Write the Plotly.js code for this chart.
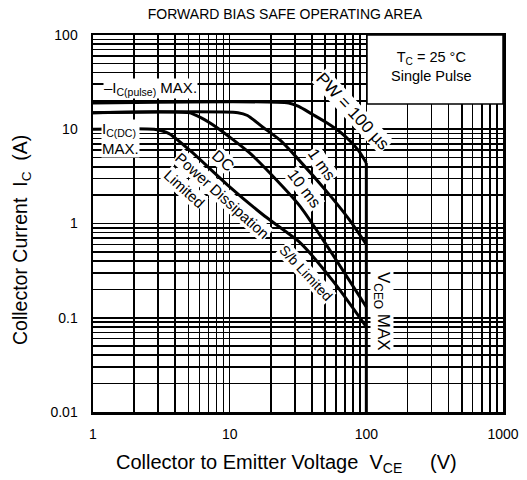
<!DOCTYPE html>
<html>
<head>
<meta charset="utf-8">
<script src="https://cdn.plot.ly/plotly-3.0.1.min.js"></script>
<style>html,body{margin:0;padding:0;background:#fff}#chart{width:527px;height:480px}</style>
</head>
<body>
<div id="chart"></div>
<script>
// ---- data (V in volts, I in amperes) ----
const v100us = [1, 27, 32, 40, 52, 64, 76, 88, 100];
const i100us = [19, 19, 17.5, 14.5, 11.6, 9.4, 7.5, 5.9, 4.4];

const v1ms = [1, 11.5, 13.5, 17.5, 23.3, 31, 54, 75, 100];
const i1ms = [15, 15, 14, 10.5, 7.7, 5.0, 2.0, 1.1, 0.6];

const v10ms = [1, 5, 6.2, 8, 14, 24.5, 33, 50, 100];
const i10ms = [15, 15, 13.2, 10.5, 5.6, 2.45, 1.5, 0.62, 0.13];

const vDC = [1, 2.8, 3.6, 5.1, 10, 18, 33, 59, 100];
const iDC = [10, 10, 9, 6.0, 2.45, 1.2, 0.62, 0.23, 0.08];

const vVceo = [100, 100];
const iVceo = [4.4, 0.01];

const xDecades = [1, 10, 100, 1000];
const xDecadeText = ['1', '10', '100', '1000'];
const yDecades = [0.01, 0.1, 1, 10, 100];
const yDecadeText = ['0.01', '0.1', '1', '10', '100'];
const gridSteps = [1, 2, 3, 4, 5, 6, 7, 8, 9];

// ---- log grid: every 1..9 step gets a grid line, only decades are labelled ----
function logTicks(decades, labels) {
  const vals = [], text = [];
  decades.forEach((d, k) => {
    const steps = k === decades.length - 1 ? [1] : gridSteps;
    steps.forEach(s => {
      vals.push(d * s);
      text.push(s === 1 ? labels[k] : '');
    });
  });
  return {vals, text};
}
const xt = logTicks(xDecades, xDecadeText);
const yt = logTicks(yDecades, yDecadeText);

// ---- drawing ----
const FONT = 'Liberation Sans, Arial, Helvetica, sans-serif';
const NB = '\u00a0';
const curve = (x, y, name) => ({x, y, name, type: 'scatter', mode: 'lines',
  line: {color: '#000', width: 3, shape: 'spline', smoothing: 0.6}, hoverinfo: 'skip'});

const traces = [
  curve(v100us, i100us, 'PW = 100 µs'),
  curve(v1ms, i1ms, '1 ms'),
  curve(v10ms, i10ms, '10 ms'),
  curve(vDC, iDC, 'DC'),
  curve(vVceo, iVceo, 'VCEO MAX')
];

// plot area in pixels: x 93..503, y 35..412
const L = 93, T = 35, W = 410, H = 377;
const px = x => (x - L) / W;
const py = y => (T + H - y) / H;

const ann = (text, x, y, angle, size, extra) => Object.assign({
  text, x: px(x), y: py(y), xref: 'paper', yref: 'paper', showarrow: false,
  textangle: angle, font: {family: FONT, size: size, color: '#000'},
  bgcolor: '#fff', borderpad: 0, xanchor: 'center', yanchor: 'middle'
}, extra || {});

const clear = {bgcolor: 'rgba(0,0,0,0)'};

const annotations = [
  ann('–I<sub>C(pulse)</sub> MAX.', 150, 88, 0, 15),
  ann('I<sub>C(DC)</sub><br>MAX.', 101, 138, 0, 15, {xanchor: 'left', align: 'left'}),
  ann('DC', 223, 160, 42, 16),
  ann('Power Dissipation', 222, 196, 42, 15),
  ann('Limited', 184, 189, 42, 15),
  ann('S/b Limited', 306, 273, 47, 14),
  ann('PW = 100 µs', 353, 111, 47, 17),
  ann('1 ms', 322, 164, 55, 16),
  ann('10 ms', 304, 189, 53, 16),
  ann('V<sub>CEO</sub> MAX', 382, 311, 90, 17),
  ann('T<sub>C</sub> = 25 °C<br>Single Pulse', 431, 66, 0, 14.5, Object.assign({align: 'center'}, clear)),
  // axis titles
  ann('Collector to Emitter Voltage' + NB + NB + 'V<sub>CE</sub>' + NB.repeat(5) + '(V)', 115, 463, 0, 20,
      Object.assign({xanchor: 'left'}, clear)),
  ann('Collector Current' + NB + NB + 'I<sub>C</sub>' + NB + NB + '(A)', 22, 240, -90, 19.5, clear)
];

const shapes = [
  {type: 'rect', xref: 'paper', yref: 'paper', x0: px(367), x1: 1, y0: py(104), y1: 1,
   fillcolor: '#fff', line: {color: '#000', width: 1.5}, layer: 'above'}
];

const axisCommon = {
  type: 'log', showline: true, linecolor: '#000', linewidth: 2.5, mirror: true,
  showgrid: true, gridcolor: '#000', gridwidth: 1.6, zeroline: false, ticks: '',
  tickmode: 'array', tickfont: {family: FONT, size: 14, color: '#000'}
};

const layout = {
  width: 527, height: 480,
  margin: {l: L, r: 527 - L - W, t: T, b: 480 - T - H},
  paper_bgcolor: '#fff', plot_bgcolor: '#fff', showlegend: false,
  font: {family: FONT, color: '#000'},
  title: {text: 'FORWARD BIAS SAFE OPERATING AREA', font: {family: FONT, size: 14, color: '#000'},
          x: 285 / 527, xanchor: 'center', y: 1 - 14 / 480, yanchor: 'middle'},
  xaxis: Object.assign({}, axisCommon, {
    range: [0, 3], tickvals: xt.vals, ticktext: xt.text, ticklabelstandoff: 8
  }),
  yaxis: Object.assign({}, axisCommon, {
    range: [-2, 2], tickvals: yt.vals, ticktext: yt.text, ticklabelstandoff: 10
  }),
  annotations, shapes
};

Plotly.newPlot('chart', traces, layout, {displayModeBar: false, staticPlot: true});
</script>
</body>
</html>
